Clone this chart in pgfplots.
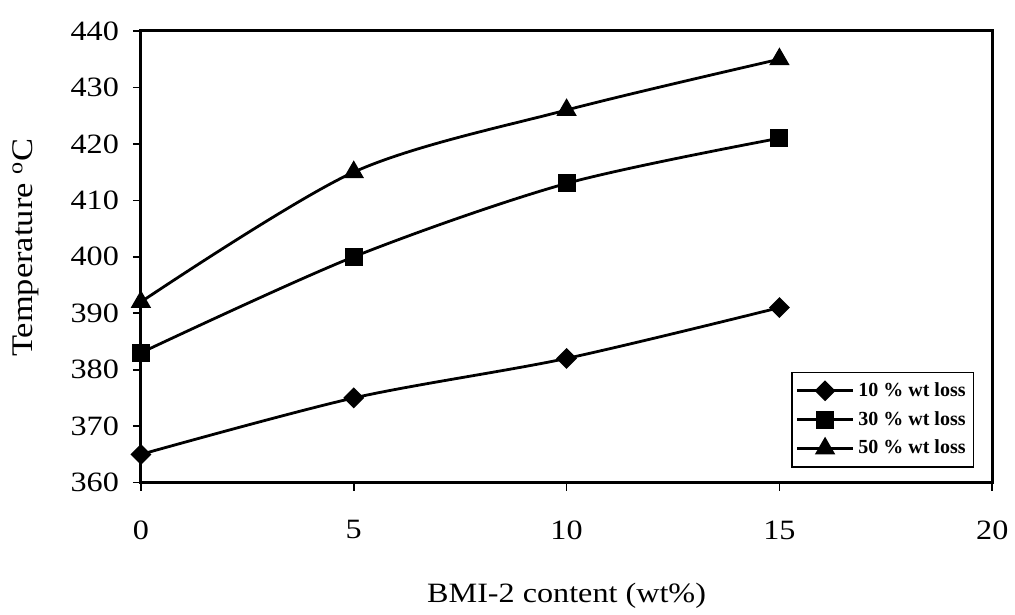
\documentclass[border=0pt]{standalone}
\usepackage{fontspec}
\setmainfont{Liberation Serif}[FakeStretch=1.15]
\newfontfamily\legfont{Liberation Serif}
\usepackage{pgfplots}
\pgfplotsset{compat=1.18}
\begin{document}
\begin{tikzpicture}
\begin{axis}[
    width=426pt, height=226pt, scale only axis,
    xmin=0, xmax=20, ymin=360, ymax=440,
    xtick={0,5,10,15,20},
    ytick={360,370,380,390,400,410,420,430,440},
    tickpos=left,
    tick align=outside,
    major tick length=4pt,
    axis line style={line width=1.5pt},
    tick style={line width=0.8pt, black},
    font=\fontsize{14}{16.8}\selectfont,
    /pgf/number format/assume math mode=true,
    xticklabel style={yshift=-11.5pt},
    yticklabel style={xshift=-3.5pt},
    xlabel={BMI-2 content (wt\%)},
    ylabel={Temperature \textsuperscript{o}C},
    xlabel style={at={(axis description cs:0.5,-0.25)}, anchor=center},
    ylabel style={at={(axis description cs:-0.135,0.52)}, anchor=center,
        font=\fontsize{15}{18}\selectfont},
    clip=false,
    legend style={at={(rel axis cs:0.979,0.033)}, anchor=south east,
        draw=black, line width=0.8pt,
        font=\legfont\bfseries\fontsize{10}{12}\selectfont,
        inner xsep=2pt, inner ysep=3pt, row sep=2pt},
    legend cell align=left,
    legend image code/.code={
        \draw[mark repeat=2, mark phase=2, #1]
            plot coordinates {(0pt,0pt) (14pt,0pt) (28pt,0pt)};
    },
    every axis plot/.append style={black, line width=1.4pt, smooth},
]
% 10 % wt loss
\addplot[mark=square*, mark size=3pt, mark options={rotate=45}]
    coordinates {(0,365) (5,375) (10,382) (15,391)};
\addlegendentry{10 \% wt loss}

% 30 % wt loss
\addplot[mark=square*, mark size=3.8pt]
    coordinates {(0,383) (5,400) (10,413) (15,421)};
\addlegendentry{30 \% wt loss}

% 50 % wt loss
\addplot[mark=triangle*, mark size=4.5pt]
    coordinates {(0,392) (5,415) (10,426) (15,435)};
\addlegendentry{50 \% wt loss}

\path (rel axis cs:-0.1655,-0.2832) rectangle (rel axis cs:1.0258,1.0686);
\end{axis}
\end{tikzpicture}
\end{document}
